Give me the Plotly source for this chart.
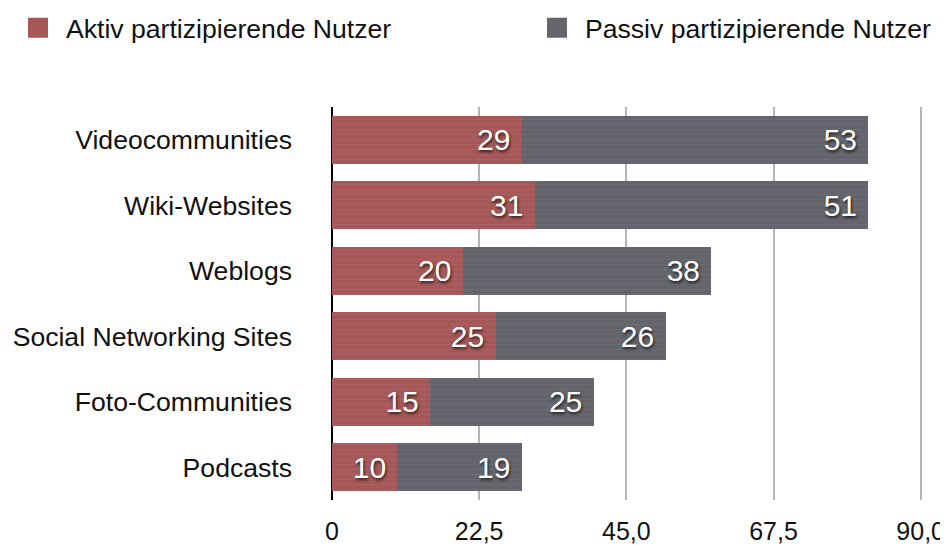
import plotly.graph_objects as go

categories = [
    "Videocommunities",
    "Wiki-Websites",
    "Weblogs",
    "Social Networking Sites",
    "Foto-Communities",
    "Podcasts",
]
aktiv = [29, 31, 20, 25, 15, 10]
passiv = [53, 51, 38, 26, 25, 19]

tick_vals = [0, 22.5, 45, 67.5, 90]
tick_text = ["0", "22,5", "45,0", "67,5", "90,0"]

RED = "#a65858"
GRAY = "#64646c"
FONT = "Liberation Sans, Arial, Helvetica, sans-serif"

label_font = dict(
    family=FONT, size=30, color="white",
    shadow="1px 2px 3px rgba(0,0,0,0.7)",
)


def bar_trace(name, values, color):
    return go.Bar(
        name=name,
        y=categories,
        x=values,
        orientation="h",
        marker=dict(
            color=color,
            line=dict(width=0),
            pattern=dict(shape="-", fgcolor="white", fgopacity=0.05, size=5, solidity=0.2),
        ),
        text=values,
        texttemplate="%{x}\u00a0",
        textposition="inside",
        insidetextanchor="end",
        textfont=label_font,
        showlegend=False,
        hoverinfo="skip",
    )


fig = go.Figure()
fig.add_trace(bar_trace("Aktiv partizipierende Nutzer", aktiv, RED))
fig.add_trace(bar_trace("Passiv partizipierende Nutzer", passiv, GRAY))

# legend entries with larger square swatches, one legend per entry
for name, color, leg in [
    ("Aktiv partizipierende Nutzer", RED, "legend"),
    ("Passiv partizipierende Nutzer", GRAY, "legend2"),
]:
    fig.add_trace(
        go.Scatter(
            x=[None], y=[None], mode="markers", name=name,
            marker=dict(symbol="square", size=22, color=color, line=dict(color=color, width=4)),
            showlegend=True, legend=leg,
        )
    )

# page body has an 8px margin, so the figure is 940x538
W, H = 940, 538
ML, MR, MT, MB = 324, 26, 99, 46
PW, PH = W - ML - MR, H - MT - MB

legend_style = dict(
    orientation="h",
    y=1 + (MT + 4) / PH,
    xanchor="left", yanchor="top",
    font=dict(family=FONT, size=26.6, color="#111111"),
    itemsizing="trace",
    itemwidth=46,
    bgcolor="rgba(0,0,0,0)",
)

fig.update_layout(
    width=W,
    height=H,
    barmode="stack",
    bargap=0.27,
    plot_bgcolor="white",
    paper_bgcolor="white",
    font=dict(family=FONT, size=26.6, color="#111111"),
    margin=dict(l=ML, r=MR, t=MT, b=MB, autoexpand=False),
    legend=dict(legend_style, x=(2 - ML) / PW),
    legend2=dict(legend_style, x=(521 - ML) / PW),
    xaxis=dict(
        range=[0, 90.2],
        tickvals=tick_vals,
        ticktext=tick_text,
        tickfont=dict(size=25),
        showgrid=True,
        gridcolor="#b4b4b4",
        gridwidth=2,
        zeroline=True,
        zerolinecolor="black",
        zerolinewidth=2,
        showline=False,
        ticks="",
        ticklabelstandoff=14,
        automargin=False,
    ),
    yaxis=dict(
        categoryorder="array",
        categoryarray=categories[::-1],
        showgrid=False,
        ticks="",
        ticklabelstandoff=39,
        automargin=False,
    ),
)

fig.write_html("out.html")
